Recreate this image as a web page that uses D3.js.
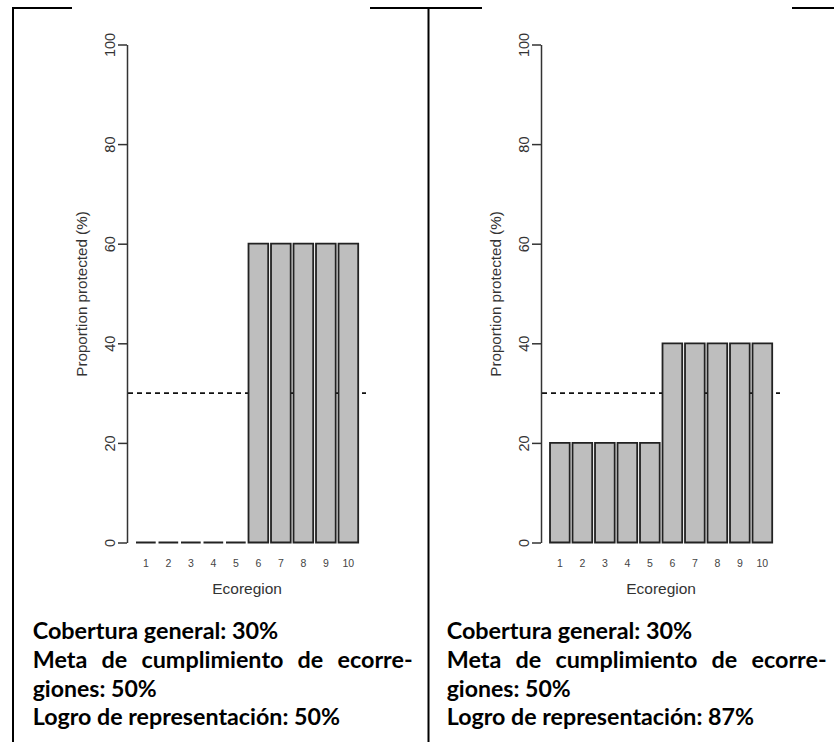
<!DOCTYPE html>
<html>
<head>
<meta charset="utf-8">
<script src="https://cdn.jsdelivr.net/npm/d3@7"></script>
<style>
  body { margin: 0; background: #fff; }
  svg { display: block; }
</style>
</head>
<body>
<div id="chart"></div>
<script>
// data
const ecoregions = [1, 2, 3, 4, 5, 6, 7, 8, 9, 10]
const protectedA = [0, 0, 0, 0, 0, 60, 60, 60, 60, 60]
const protectedB = [20, 20, 20, 20, 20, 40, 40, 40, 40, 40]
const targetLine = 30
const yTicks = [0, 20, 40, 60, 80, 100]
const captionsA = [
  'Cobertura general: 30%',
  'Meta de cumplimiento de ecorre-',
  'giones: 50%',
  'Logro de representación: 50%'
]
const captionsB = [
  'Cobertura general: 30%',
  'Meta de cumplimiento de ecorre-',
  'giones: 50%',
  'Logro de representación: 87%'
]

const width = 834
const height = 742

const svg = d3
  .select('#chart')
  .append('svg')
  .attr('width', width)
  .attr('height', height)

// table borders
svg.append('line')
  .attr('x1', 12).attr('x2', width).attr('y1', 8).attr('y2', 8)
  .attr('stroke', '#000').attr('stroke-width', 2)
svg.append('line')
  .attr('x1', 13).attr('x2', 13).attr('y1', 7).attr('y2', height)
  .attr('stroke', '#000').attr('stroke-width', 2)
svg.append('line')
  .attr('x1', 428.5).attr('x2', 428.5).attr('y1', 7).attr('y2', height)
  .attr('stroke', '#000').attr('stroke-width', 2)

const y = d3.scaleLinear().domain([0, 100]).range([542.5, 44.5])

// pick the caption size so the first line fills the same width as the original
const capFont = 'Lato, sans-serif'
const probe = svg.append('text')
  .attr('font-family', capFont).attr('font-weight', 700).attr('font-size', 20)
  .text(captionsA[0])
const capSize = 20 * 245.6 / probe.node().getComputedTextLength()
probe.remove()

function drawPanel(dx, values, captions, coverX, coverW) {
  const g = svg.append('g').attr('transform', `translate(${dx},0)`)

  // the pasted plot image covers the top border
  g.append('rect')
    .attr('x', coverX).attr('y', 0).attr('width', coverW).attr('height', 30)
    .attr('fill', '#fff')

  const axisX = 127

  const x = d3.scaleBand()
    .domain(ecoregions)
    .range([134.6, 359.6])
    .paddingInner(0.125)
    .paddingOuter(0.0625)

  // dashed target line
  g.append('line')
    .attr('x1', axisX + 1).attr('x2', axisX + 239)
    .attr('y1', y(targetLine)).attr('y2', y(targetLine))
    .attr('stroke', '#111')
    .attr('stroke-width', 1.7)
    .attr('stroke-dasharray', '5,4')

  // bars (paths so zero bars still draw as a line)
  g.selectAll('.bar')
    .data(ecoregions)
    .enter()
    .append('path')
    .attr('class', 'bar')
    .attr('d', (d, i) => {
      const x0 = x(d), x1 = x(d) + x.bandwidth()
      return `M${x0},${y(0)}V${y(values[i])}H${x1}V${y(0)}Z`
    })
    .attr('fill', '#bebebe')
    .attr('stroke', '#222')
    .attr('stroke-width', 1.8)

  // y axis
  const yAxis = g.append('g')
    .attr('transform', `translate(${axisX},0)`)
    .call(d3.axisLeft(y).tickValues(yTicks).tickSize(9).tickSizeOuter(0))
  yAxis.select('.domain').attr('stroke', '#333').attr('stroke-width', 1.5)
  yAxis.selectAll('.tick line').attr('stroke', '#333').attr('stroke-width', 1.5)
  yAxis.selectAll('.tick text')
    .attr('x', null).attr('dy', null)
    .attr('transform', 'translate(-12,0) rotate(-90)')
    .attr('text-anchor', 'middle')
    .attr('font-family', 'Liberation Sans, Arial, sans-serif')
    .attr('font-size', 14.5)
    .attr('fill', '#333')

  // x tick labels
  g.selectAll('.xlab')
    .data(ecoregions)
    .enter()
    .append('text')
    .attr('class', 'xlab')
    .attr('x', d => x(d) + x.bandwidth() / 2)
    .attr('y', 567)
    .attr('text-anchor', 'middle')
    .attr('font-family', 'Liberation Sans, Arial, sans-serif')
    .attr('font-size', 10.5)
    .attr('fill', '#444')
    .text(d => d)

  const barsMid = (x(1) + x(10) + x.bandwidth()) / 2
  g.append('text')
    .attr('x', barsMid)
    .attr('y', 594)
    .attr('text-anchor', 'middle')
    .attr('font-family', 'Liberation Sans, Arial, sans-serif')
    .attr('font-size', 15.5)
    .attr('fill', '#333')
    .text('Ecoregion')

  g.append('text')
    .attr('transform', `translate(${axisX - 40},${y(50) + 0.5}) rotate(-90)`)
    .attr('text-anchor', 'middle')
    .attr('font-family', 'Liberation Sans, Arial, sans-serif')
    .attr('font-size', 15.2)
    .attr('fill', '#333')
    .text('Proportion protected (%)')

  // captions below the plot
  const capX = 32.7
  const baselines = [639.3, 668, 696.7, 725]
  const lineWidths = [245.6, 380, 124, 307.3]
  captions.forEach((c, i) => {
    if (i === 1) {
      // justified line: spread the words
      const words = c.split(' ')
      const nodes = words.map(w => g.append('text')
        .attr('y', baselines[i])
        .attr('font-family', capFont)
        .attr('font-weight', 700)
        .attr('font-size', capSize)
        .attr('fill', '#000')
        .text(w))
      const ws = nodes.map(n => n.node().getComputedTextLength())
      const gap = (lineWidths[i] - d3.sum(ws)) / (words.length - 1)
      let cx = capX
      nodes.forEach((n, k) => {
        n.attr('x', cx)
        cx += ws[k] + gap
      })
    } else {
      g.append('text')
        .attr('x', capX)
        .attr('y', baselines[i])
        .attr('font-family', capFont)
        .attr('font-weight', 700)
        .attr('font-size', capSize)
        .attr('fill', '#000')
        .attr('textLength', lineWidths[i])
        .attr('lengthAdjust', 'spacingAndGlyphs')
        .text(c)
    }
  })
}

drawPanel(0, protectedA, captionsA, 72, 298)
drawPanel(414, protectedB, captionsB, 68, 310)
</script>
</body>
</html>
